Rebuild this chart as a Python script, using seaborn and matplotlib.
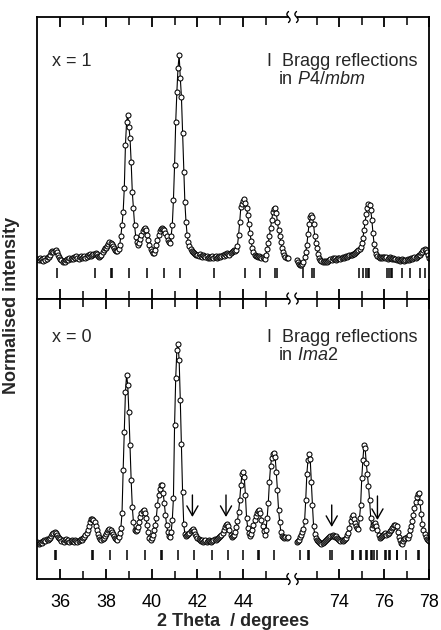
import numpy as np
import pandas as pd
import matplotlib
matplotlib.use("Agg")
import matplotlib.pyplot as plt
import seaborn as sns
from matplotlib.lines import Line2D
from matplotlib.patches import Rectangle

# ---------------- data ----------------
# 2-theta measurement grids (deg), step 0.05
tth_low = np.round(np.arange(35.00, 45.951, 0.05), 2)    # 220 points
tth_high = np.round(np.arange(72.10, 78.001, 0.05), 2)   # 119 points

# x = 1 (P4/mbm) intensities, arbitrary counts
x1_low = [
    41, 40, 42, 40, 41, 39, 42, 40, 41, 43,
    43, 45, 48, 49, 48, 49, 50, 48, 45, 43,
    41, 40, 38, 39, 38, 40, 41, 40, 42, 41,
    42, 41, 43, 42, 44, 42, 41, 43, 44, 42,
    43, 44, 42, 43, 45, 44, 46, 44, 45, 46,
    46, 47, 46, 44, 43, 44, 45, 48, 50, 52,
    52, 54, 56, 58, 57, 56, 54, 52, 50, 49,
    49, 51, 55, 64, 75, 88, 112, 155, 178, 185,
    173, 162, 138, 108, 92, 75, 63, 58, 55, 57,
    61, 65, 69, 71, 72, 70, 65, 60, 55, 51,
    49, 47, 47, 50, 55, 60, 65, 69, 71, 72,
    71, 70, 67, 64, 60, 58, 57, 64, 75, 100,
    135, 178, 208, 232, 245, 222, 203, 167, 128, 98,
    78, 65, 58, 54, 51, 49, 48, 47, 46, 45,
    45, 44, 46, 44, 43, 45, 44, 43, 44, 42,
    43, 42, 43, 44, 42, 43, 44, 42, 43, 44,
    43, 44, 45, 44, 46, 45, 47, 46, 45, 47,
    48, 49, 50, 49, 50, 54, 65, 78, 93, 96,
    99, 101, 97, 92, 85, 76, 67, 59, 52, 48,
    45, 44, 44, 43, 44, 43, 42, 43, 42, 41,
    45, 51, 57, 64, 72, 80, 88, 91, 92, 87,
    78, 70, 64, 58, 52, 48, 45, 43, 42, 42,
]
x1_high = [
    40, 38, 36, 35, 35, 36, 38, 43,
    48, 55, 66, 76, 83, 85, 83, 76, 64, 57,
    52, 46, 42, 40, 39, 38, 39, 38, 39, 38,
    39, 40, 41, 40, 42, 41, 42, 40, 41, 42,
    42, 41, 42, 43, 42, 43, 44, 43, 44, 45,
    45, 45, 46, 46, 47, 48, 49, 50, 51, 53,
    57, 62, 70, 78, 86, 92, 96, 95, 90, 80,
    67, 56, 50, 46, 44, 43, 42, 43, 42, 43,
    43, 42, 43, 41, 42, 43, 42, 41, 42, 41,
    41, 40, 41, 40, 39, 40, 41, 40, 39, 40,
    40, 41, 40, 41, 42, 41, 42, 43, 42, 43,
    44, 45, 45, 47, 48, 50, 51, 50, 48, 45,
    42,
]

# x = 0 (Ima2) intensities, arbitrary counts
x0_low = [
    38, 36, 37, 38, 37, 39, 40, 39, 41, 40,
    41, 42, 44, 46, 47, 48, 47, 45, 43, 42,
    41, 39, 40, 38, 40, 41, 39, 40, 38, 39,
    40, 39, 38, 40, 39, 38, 39, 40, 41, 40,
    42, 43, 45, 47, 50, 54, 58, 61, 61, 60,
    58, 54, 50, 46, 43, 41, 40, 41, 42, 44,
    46, 48, 50, 51, 50, 48, 46, 44, 42, 41,
    40, 43, 47, 52, 67, 110, 148, 188, 205, 195,
    168, 135, 100, 73, 58, 50, 49, 50, 53, 58,
    63, 67, 69, 70, 67, 62, 55, 48, 42, 40,
    42, 45, 50, 55, 62, 75, 85, 91, 95, 95,
    87, 77, 65, 55, 48, 44, 43, 48, 60, 82,
    155, 202, 230, 236, 220, 180, 136, 88, 56, 46,
    44, 45, 46, 47, 49, 50, 51, 49, 46, 44,
    42, 41, 40, 39, 40, 38, 39, 40, 38, 39,
    40, 39, 38, 39, 40, 41, 40, 41, 42, 43,
    44, 45, 47, 50, 53, 55, 56, 54, 50, 45,
    43, 44, 45, 48, 53, 59, 68, 80, 95, 106,
    108, 103, 85, 62, 52, 47, 44, 46, 50, 55,
    60, 64, 67, 69, 70, 67, 60, 54, 49, 45,
    50, 62, 77, 98, 114, 122, 126, 127, 123, 108,
    90, 70, 58, 48, 44, 43, 42, 43, 42, 43,
]
x0_high = [
    38, 39, 40, 43, 45, 48, 51, 59,
    80, 106, 120, 126, 121, 98, 75, 54, 46, 42,
    40, 39, 38, 37, 36, 37, 38, 39, 40, 41,
    42, 43, 44, 44, 45, 44, 43, 44, 42, 41,
    40, 39, 40, 39, 40, 41, 42, 45, 47, 52,
    59, 63, 65, 61, 57, 54, 52, 51, 62, 75,
    102, 120, 135, 132, 117, 106, 94, 80, 62, 52,
    55, 56, 57, 54, 50, 45, 42, 43, 44, 45,
    46, 47, 45, 46, 47, 49, 50, 52, 53, 55,
    55, 54, 48, 43, 40, 37, 36, 39, 41, 42,
    43, 42, 45, 50, 54, 59, 65, 72, 78, 83,
    86, 87, 78, 66, 56, 50, 46, 43, 41, 40,
    39,
]

# Bragg reflection positions (deg)
bragg_p4mbm = [35.86, 37.51, 38.22, 38.27, 39.01, 39.78, 40.54, 41.24, 42.73,
               44.09, 44.75, 45.41, 45.46, 72.38, 72.78, 72.86, 74.89, 75.06,
               75.18, 75.27, 75.31, 76.11, 76.21, 76.29, 76.33, 76.78, 77.15,
               77.58, 77.82]
bragg_ima2 = [35.78, 35.82, 37.38, 37.42, 38.17, 38.93, 39.69, 40.40, 40.45,
              41.17, 41.86, 42.62, 43.32, 44.00, 44.64, 44.69, 45.36, 72.24,
              72.61, 72.66, 73.58, 73.65, 74.57, 74.62, 74.94, 74.98, 75.18,
              75.22, 75.40, 75.44, 75.55, 75.68, 76.02, 76.06, 76.22, 76.26,
              76.55, 76.59, 76.97, 77.50, 77.55]

# impurity arrows in the x = 0 pattern (position, tail, tip in counts)
arrow_pos = [41.78, 43.25, 73.66, 75.70]
arrow_tail = [85, 85, 75, 84]
arrow_tip = [63, 63, 53, 60]

major_low = [36, 38, 40, 42, 44]
minor_low = [37, 39, 41, 43, 45]
major_high = [74, 76, 78]
minor_high = [73, 75, 77]

# ---------------- style ----------------
sns.set_theme(style="ticks")
plt.rcParams["font.family"] = ["Liberation Sans", "DejaVu Sans"]
plt.rcParams["mathtext.fontset"] = "custom"
plt.rcParams["mathtext.rm"] = "Liberation Sans"
plt.rcParams["mathtext.it"] = "Liberation Sans:italic"
plt.rcParams["axes.linewidth"] = 1.3
plt.rcParams["axes.edgecolor"] = "black"

FS = 13
W, H = 441, 630
fig = plt.figure(figsize=(W / 100, H / 100), dpi=100)


def fx(px):
    return px / W


def fy(py):
    return 1 - py / H


x_left, x_break, x_right = 37.0, 292.5, 429.0
y_top, y_mid, y_bot = 17.0, 298.5, 579.0
xlim_low = (34.98, 46.16)
xlim_high = (71.91, 78.0)

panels = [
    dict(low=x1_low, high=x1_high, bragg=bragg_p4mbm, yt=y_top, yb=y_mid,
         ylim=(1.5, 283.0), btick=(22, 32), label="x = 1",
         group=r"in $\mathit{P4/mbm}$", ty=(65.5, 84.0)),
    dict(low=x0_low, high=x0_high, bragg=bragg_ima2, yt=y_mid, yb=y_bot,
         ylim=(1.0, 281.5), btick=(20, 30), label="x = 0",
         group=r"in $\mathit{Ima}$2", ty=(341.5, 360.0)),
]

for pi_, p in enumerate(panels):
    norm = max(max(p["low"]), max(p["high"]))
    axL = fig.add_axes([fx(x_left), fy(p["yb"]), fx(x_break) - fx(x_left),
                        fy(p["yt"]) - fy(p["yb"])])
    axR = fig.add_axes([fx(x_break), fy(p["yb"]), fx(x_right) - fx(x_break),
                        fy(p["yt"]) - fy(p["yb"])])
    for ax, tth, vals, xl, maj, mnr in [
        (axL, tth_low, p["low"], xlim_low, major_low, minor_low),
        (axR, tth_high, p["high"], xlim_high, major_high, minor_high),
    ]:
        df = pd.DataFrame({"tth": tth, "I": np.array(vals) / norm})
        sns.lineplot(data=df, x="tth", y="I", ax=ax, color="black",
                     linewidth=0.8, marker="o", markersize=3.6,
                     markerfacecolor="white", markeredgecolor="black",
                     markeredgewidth=0.75, estimator=None, sort=False,
                     legend=False)
        ax.vlines(p["bragg"], p["btick"][0] / norm, p["btick"][1] / norm,
                  color="black", linewidth=1.1)
        ax.set_xlim(*xl)
        ax.set_ylim(p["ylim"][0] / norm, p["ylim"][1] / norm)
        ax.set_xticks(maj)
        ax.set_xticks(mnr, minor=True)
        ax.set_yticks([])
        ax.set_xlabel("")
        ax.set_ylabel("")
        ax.set_facecolor("white")
        ax.tick_params(axis="x", which="both", direction="in", top=True,
                       bottom=True, colors="black", labelsize=FS, pad=11)
        ax.tick_params(axis="x", which="major", length=7.5, width=1.3)
        ax.tick_params(axis="x", which="minor", length=5.5, width=1.1)
        if pi_ == 0:
            ax.tick_params(axis="x", labelbottom=False)
        for s in ax.spines.values():
            s.set_color("black")
            s.set_linewidth(1.3)
    axL.spines["right"].set_visible(False)
    axR.spines["left"].set_visible(False)

    # arrows for x = 0
    if pi_ == 1:
        for xp, tl, tp in zip(arrow_pos, arrow_tail, arrow_tip):
            ax = axL if xp < 60 else axR
            ax.annotate("", xy=(xp, tp / norm), xytext=(xp, tl / norm),
                        arrowprops=dict(arrowstyle="->,head_length=0.35,head_width=0.2",
                                        color="black", lw=1.0, shrinkA=0,
                                        shrinkB=0, mutation_scale=20))

    # panel texts
    ty1, ty2 = p["ty"]
    fig.text(fx(52), fy(ty1), p["label"], fontsize=FS, va="baseline", ha="left")
    fig.text(fx(266.5), fy(ty1), "I", fontsize=FS, va="baseline", ha="left")
    fig.text(fx(281.5), fy(ty1), "Bragg reflections", fontsize=FS,
             va="baseline", ha="left")
    fig.text(fx(278.5), fy(ty2), p["group"], fontsize=FS, va="baseline",
             ha="left")

# axis-break squiggles on the three horizontal frame lines
for yl in (y_top, y_mid, y_bot):
    fig.patches.append(Rectangle((fx(288.5), fy(yl + 3)), fx(296.5) - fx(288.5),
                                 fy(yl - 3) - fy(yl + 3),
                                 transform=fig.transFigure, facecolor="white",
                                 edgecolor="none", zorder=5))
    t = np.linspace(-1, 1, 30)
    for x0 in (288.5, 296.5):
        fig.lines.append(Line2D(fx(x0 + 1.6 * np.sin(np.pi * t)),
                                fy(yl + 5.5 * t), transform=fig.transFigure,
                                color="black", linewidth=1.0, zorder=6))

fig.text(fx(12), fy(305), "Normalised intensity", rotation=90, ha="center",
         va="center", fontsize=FS, fontweight="bold")
fig.text(fx(233), fy(626.5), "2 Theta  / degrees", ha="center",
         va="baseline", fontsize=FS, fontweight="bold")

fig.savefig("out.png", dpi=100, facecolor="white")
